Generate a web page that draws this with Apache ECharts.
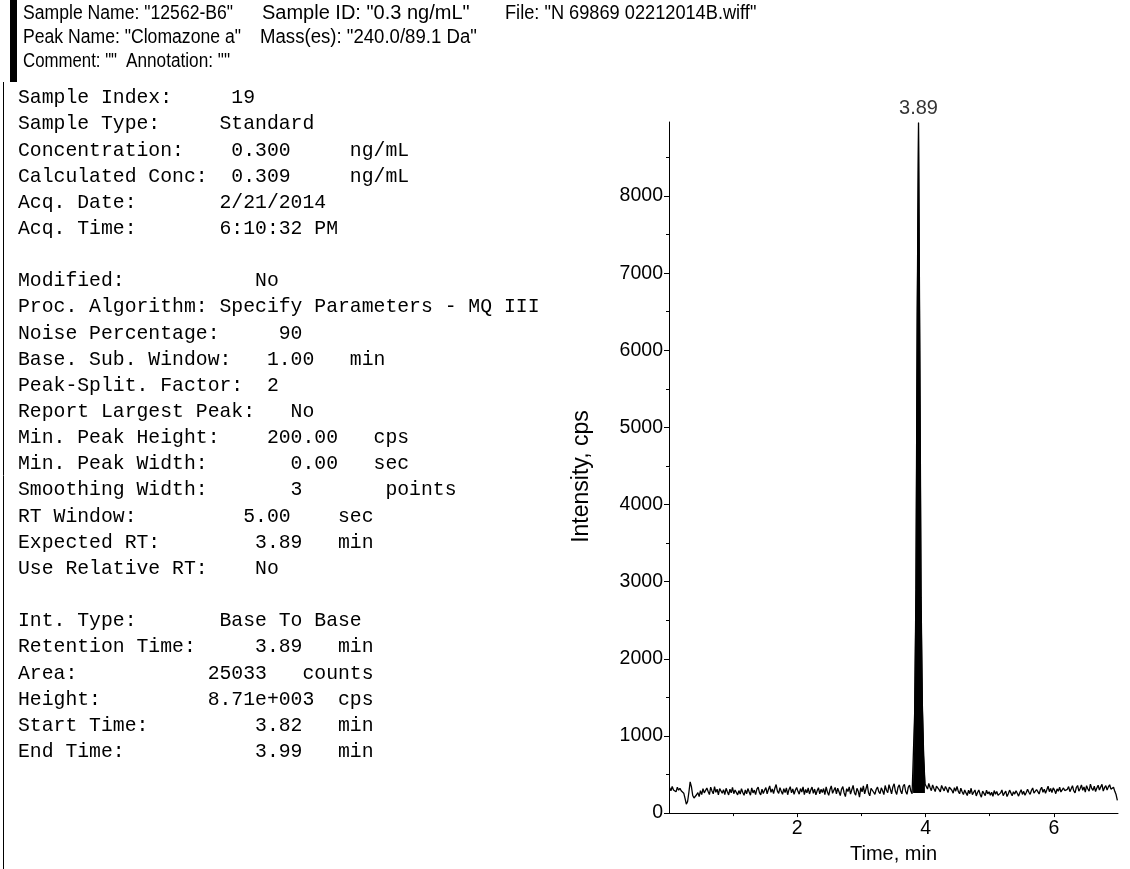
<!DOCTYPE html>
<html>
<head>
<meta charset="utf-8">
<script src="https://cdn.jsdelivr.net/npm/echarts@6/dist/echarts.min.js"></script>
<style>
html,body{margin:0;padding:0;background:#fff;}
#c{width:1130px;height:869px;}
</style>
</head>
<body>
<div id="c"></div>
<script>
// ---------------- DATA ----------------
const headerRows = [
  ['Sample Name: "12562-B6"', 'Sample ID: "0.3 ng/mL"', 'File: "N 69869 02212014B.wiff"'],
  ['Peak Name: "Clomazone a"', 'Mass(es): "240.0/89.1 Da"'],
  ['Comment: ""', 'Annotation: ""']
];
const infoLines = [
  'Sample Index:     19',
  'Sample Type:     Standard',
  'Concentration:    0.300     ng/mL',
  'Calculated Conc:  0.309     ng/mL',
  'Acq. Date:       2/21/2014',
  'Acq. Time:       6:10:32 PM',
  '',
  'Modified:           No',
  'Proc. Algorithm: Specify Parameters - MQ III',
  'Noise Percentage:     90',
  'Base. Sub. Window:   1.00   min',
  'Peak-Split. Factor:  2',
  'Report Largest Peak:   No',
  'Min. Peak Height:    200.00   cps',
  'Min. Peak Width:       0.00   sec',
  'Smoothing Width:       3       points',
  'RT Window:         5.00    sec',
  'Expected RT:        3.89   min',
  'Use Relative RT:    No',
  '',
  'Int. Type:       Base To Base',
  'Retention Time:     3.89   min',
  'Area:           25033   counts',
  'Height:         8.71e+003  cps',
  'Start Time:         3.82   min',
  'End Time:           3.99   min'
];
const xAxisName = 'Time, min';
const yAxisName = 'Intensity, cps';
const xMajorTicks = [2, 4, 6];
const xMinorTicks = [1, 3, 5];
const yMajorTicks = [0, 1000, 2000, 3000, 4000, 5000, 6000, 7000, 8000];
const yMinorTicks = [500, 1500, 2500, 3500, 4500, 5500, 6500, 7500, 8500];
const peakStartTime = 3.81;
const peakEndTime = 3.99;
const peakBaseLevel = 262;

// acquisition clock: first scan time and scan interval (min)
const scanStart = 0.01;
const scanStep = 0.02;
// intensity (cps) per scan
const intensity = [
  330, 290, 345, 300, 318, 276, 336, 296, 322, 290,
  312, 258, 190, 116, 150, 270, 405, 340, 228, 196,
  172, 238, 266, 214, 292, 240, 318, 262, 246, 326,
  280, 240, 336, 288, 250, 342, 270, 310, 236, 318,
  338, 258, 304, 240, 322, 276, 236, 310, 262, 334,
  252, 300, 322, 236, 292, 246, 316, 268, 230, 300,
  250, 318, 274, 232, 326, 262, 298, 240, 312, 338,
  266, 236, 310, 254, 296, 330, 250, 306, 352, 270,
  312, 254, 322, 370, 284, 256, 330, 282, 244, 316,
  266, 326, 238, 304, 342, 262, 314, 244, 296, 332,
  282, 246, 318, 272, 340, 240, 306, 262, 326, 248,
  298, 338, 256, 312, 236, 290, 330, 250, 308, 268,
  318, 240, 340, 272, 230, 306, 352, 256, 296, 332,
  248, 322, 276, 228, 310, 344, 262, 214, 316, 280,
  340, 246, 302, 360, 268, 232, 322, 284, 208, 330,
  276, 352, 250, 312, 376, 264, 224, 322, 344, 270,
  244, 306, 338, 278, 252, 328, 290, 240, 358, 296,
  264, 368, 310, 250, 340, 380, 282, 242, 334, 366,
  290, 250, 348, 374, 280, 244, 334, 362, 288, 250,
  262, 1300, 2900, 6500, 8950, 6000, 2800, 1400, 750, 380,
  360, 312, 384, 332, 290, 366, 320, 280, 350, 372,
  304, 276, 358, 320, 288, 346, 312, 266, 338, 362,
  296, 258, 330, 284, 346, 282, 250, 322, 276, 240,
  300, 262, 228, 296, 252, 322, 238, 270, 300, 222,
  268, 300, 244, 206, 284, 256, 226, 296, 250, 276,
  232, 270, 218, 292, 244, 280, 230, 208, 262, 300,
  226, 258, 284, 214, 250, 298, 262, 224, 276, 246,
  290, 258, 220, 268, 304, 242, 282, 232, 266, 310,
  270, 244, 292, 326, 258, 236, 306, 278, 248, 304,
  336, 270, 310, 258, 302, 348, 278, 318, 266, 326,
  298, 252, 314, 284, 336, 274, 252, 326, 292, 270,
  308, 344, 278, 316, 356, 290, 262, 332, 358, 284,
  318, 366, 296, 338, 272, 356, 312, 284, 376, 320,
  294, 350, 280, 326, 362, 300, 338, 372, 286, 330,
  356, 298, 340, 368, 310, 290, 336, 282, 240, 165
];
const times = intensity.map((_, i) => +(scanStart + i * scanStep).toFixed(2));

// ---------------- BUILD ----------------
const trace = times.map((t, i) => [t, intensity[i]]);
const peakTrace = trace.filter(p => p[0] >= peakStartTime - 1e-9 && p[0] <= peakEndTime + 1e-9);
let apexIdx = 0;
intensity.forEach((v, i) => { if (v > intensity[apexIdx]) apexIdx = i; });
const apex = trace[apexIdx];

const SANS = '"Liberation Sans", Arial, sans-serif';
const MONO = '"Liberation Mono", "Courier New", monospace';

// header layout (x position and horizontal scale of each text segment)
const headerX = [[23, 262, 505], [23, 260], [23, 126]];
const headerScale = [[0.88, 1.0, 0.91], [0.88, 0.93], [0.84, 0.86]];
const headerY = [13, 37, 61];
const graphics = [];
graphics.push({ type: 'rect', shape: { x: 10, y: 0, width: 7, height: 82 }, style: { fill: '#000' } });
graphics.push({ type: 'line', shape: { x1: 3.5, y1: 82, x2: 3.5, y2: 869 }, style: { stroke: '#000', lineWidth: 1 } });
headerRows.forEach((row, r) => {
  row.forEach((txt, c) => {
    graphics.push({
      type: 'text', x: headerX[r][c], y: headerY[r], scaleX: headerScale[r][c],
      style: { text: txt, fill: '#000', fontSize: 20, fontFamily: SANS,
               textAlign: 'left', textVerticalAlign: 'middle', align: 'left', verticalAlign: 'middle' }
    });
  });
});
infoLines.forEach((txt, i) => {
  if (!txt) return;
  graphics.push({
    type: 'text', x: 18, y: 98 + 26.15 * i,
    style: { text: txt, fill: '#000', fontSize: 19.75, fontFamily: MONO,
             textAlign: 'left', textVerticalAlign: 'middle', align: 'left', verticalAlign: 'middle' }
  });
});

const axisTextStyle = { color: '#000', fontSize: 19.5, fontFamily: SANS };

const option = {
  animation: false,
  backgroundColor: '#fff',
  grid: { left: 669, right: 12, top: 122, bottom: 52, containLabel: false },
  xAxis: [
    {
      type: 'value', min: 0, max: 7, interval: 1, position: 'bottom',
      name: xAxisName, nameLocation: 'middle', nameGap: 20,
      nameTextStyle: { color: '#000', fontSize: 20, fontFamily: SANS },
      axisLine: { show: true, lineStyle: { color: '#000', width: 1 } },
      axisTick: { show: true, customValues: xMajorTicks, length: 4, lineStyle: { color: '#000' } },
      axisLabel: { show: true, customValues: xMajorTicks, margin: 6, formatter: v => String(v), ...axisTextStyle },
      splitLine: { show: false }
    },
    {
      type: 'value', min: 0, max: 7, interval: 1, position: 'bottom', gridIndex: 0,
      axisLine: { show: false },
      axisTick: { show: true, customValues: xMinorTicks, length: 3, lineStyle: { color: '#000' } },
      axisLabel: { show: false },
      splitLine: { show: false }
    }
  ],
  yAxis: [
    {
      type: 'value', min: 0, max: 8960, interval: 1000, position: 'left',
      name: yAxisName, nameLocation: 'middle', nameGap: 76,
      nameTextStyle: { color: '#000', fontSize: 23, fontFamily: SANS, padding: [0, 18, 0, 0] },
      axisLine: { show: true, lineStyle: { color: '#000', width: 1 } },
      axisTick: { show: true, customValues: yMajorTicks, length: 5, lineStyle: { color: '#000' } },
      axisLabel: { show: true, customValues: yMajorTicks, margin: 6, formatter: v => String(v), ...axisTextStyle },
      splitLine: { show: false }
    },
    {
      type: 'value', min: 0, max: 8960, interval: 1000, position: 'left', gridIndex: 0,
      axisLine: { show: false },
      axisTick: { show: true, customValues: yMinorTicks, length: 3, lineStyle: { color: '#000' } },
      axisLabel: { show: false },
      splitLine: { show: false }
    }
  ],
  series: [
    {
      type: 'line', data: peakTrace, xAxisIndex: 0, yAxisIndex: 0,
      symbol: 'none', silent: true,
      lineStyle: { color: '#000', width: 1 },
      areaStyle: { color: '#000', opacity: 1, origin: peakBaseLevel },
      z: 2
    },
    {
      type: 'line', data: trace, xAxisIndex: 0, yAxisIndex: 0,
      symbol: 'none', sampling: null, silent: true,
      lineStyle: { color: '#000', width: 1.3 },
      z: 3
    },
    {
      type: 'scatter', data: [apex], xAxisIndex: 0, yAxisIndex: 0,
      symbolSize: 2, itemStyle: { color: 'rgba(0,0,0,0)' }, silent: true,
      label: {
        show: true, position: 'top', distance: 3,
        color: '#000', fontSize: 20, fontFamily: SANS,
        formatter: p => p.value[0].toFixed(2)
      },
      z: 4
    }
  ],
  graphic: graphics
};

const chart = echarts.init(document.getElementById('c'), null, { renderer: 'canvas' });
chart.setOption(option);
</script>
</body>
</html>
